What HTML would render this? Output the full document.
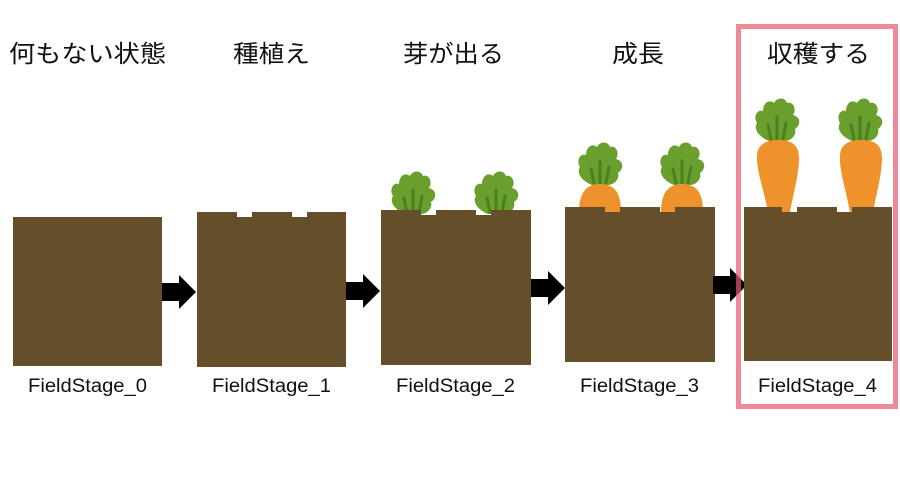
<!DOCTYPE html>
<html><head><meta charset="utf-8"><style>
html,body{margin:0;padding:0;background:#fff;}
svg{display:block}
.t{font-family:"Liberation Sans","Noto Sans CJK JP",sans-serif;font-size:24px;fill:#111;}
.l{font-family:"Liberation Sans",sans-serif;font-size:19px;fill:#111;}
</style></head><body>
<svg width="900" height="500" viewBox="0 0 900 500" xmlns="http://www.w3.org/2000/svg">
<defs>
<g id="leaf">
  <path d="M-8,40 C-18,36 -24,28 -20,22 C-24,16 -20,8 -14,10 C-14,2 -8,-2 -3,2 C0,-4 8,-4 10,2 C16,0 20,8 16,14 C24,16 24,24 18,28 C20,34 14,40 8,40 Z" fill="#6a9f2e"/>
  <path d="M0,38 L0,16 M6,38 L9,22 M-6,38 L-9,24" stroke="#4a7f22" stroke-width="3" stroke-linecap="round" fill="none"/>
</g>
<g id="arrow">
  <polygon points="0,-9 17,-9 17,-17 34,0 17,17 17,9 0,9" fill="#000"/>
</g>
</defs>

<text class="t" x="9" y="62" textLength="157" lengthAdjust="spacingAndGlyphs">何もない状態</text>
<text class="t" x="233" y="62" textLength="77" lengthAdjust="spacingAndGlyphs">種植え</text>
<text class="t" x="403" y="62" textLength="101" lengthAdjust="spacingAndGlyphs">芽が出る</text>
<text class="t" x="612" y="62" textLength="52" lengthAdjust="spacingAndGlyphs">成長</text>
<text class="t" x="767" y="62" textLength="103" lengthAdjust="spacingAndGlyphs">収穫する</text>

<rect x="13" y="217" width="149" height="149" fill="#654f2a"/>
<use href="#arrow" x="162" y="292"/>

<path d="M197,212 H237 V217 H252 V212 H292 V217 H307 V212 H346 V367 H197 Z" fill="#654f2a"/>
<use href="#arrow" x="346" y="291"/>

<use href="#leaf" x="413" y="174"/>
<use href="#leaf" x="496" y="174"/>
<path d="M381,210 H421 V215 H436 V210 H476 V215 H491 V210 H531 V365 H381 Z" fill="#654f2a"/>
<use href="#arrow" x="531" y="288"/>

<use href="#leaf" x="600" y="145"/>
<use href="#leaf" x="682" y="145"/>
<path d="M579,212 C579,192 587,184 600,184 C614,184 621,192 621,212 Z" fill="#f0922c"/>
<path d="M661,212 C661,192 669,184 682,184 C696,184 703,192 703,212 Z" fill="#f0922c"/>
<path d="M565,207 H605 V212 H620 V207 H660 V212 H675 V207 H715 V362 H565 Z" fill="#654f2a"/>
<use href="#arrow" x="713" y="285"/>

<use href="#leaf" x="777" y="101"/>
<use href="#leaf" x="860" y="101"/>
<path d="M768,212 C764,190 756,170 757,155 C758,143 768,140 778,140 C792,140 799,145 799,158 C799,175 793,195 790,212 Z" fill="#f0922c"/>
<path d="M850,212 C846,190 839,170 840,155 C841,143 851,140 861,140 C875,140 882,145 882,158 C882,175 876,195 873,212 Z" fill="#f0922c"/>
<path d="M744,207 H782 V212 H797 V207 H837 V212 H852 V207 H892 V361 H744 Z" fill="#654f2a"/>

<text class="l" x="28" y="392" textLength="119" lengthAdjust="spacingAndGlyphs">FieldStage_0</text>
<text class="l" x="212" y="392" textLength="119" lengthAdjust="spacingAndGlyphs">FieldStage_1</text>
<text class="l" x="396" y="392" textLength="119" lengthAdjust="spacingAndGlyphs">FieldStage_2</text>
<text class="l" x="580" y="392" textLength="119" lengthAdjust="spacingAndGlyphs">FieldStage_3</text>
<text class="l" x="758" y="392" textLength="119" lengthAdjust="spacingAndGlyphs">FieldStage_4</text>

<rect x="738.5" y="26.5" width="157" height="380" fill="none" stroke="#e8576c" stroke-opacity="0.7" stroke-width="5"/>
</svg>
</body></html>
